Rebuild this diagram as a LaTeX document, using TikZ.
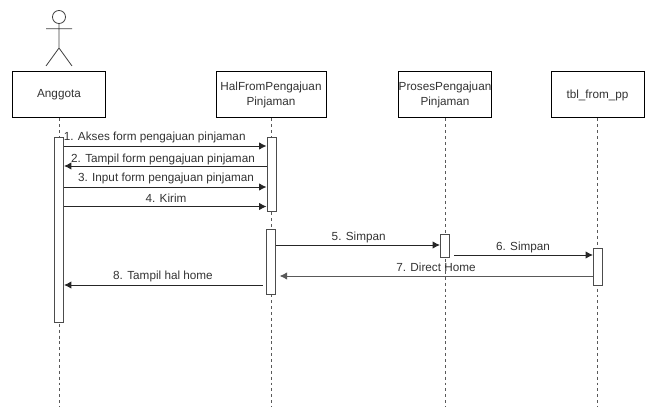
\documentclass[tikz,border=0pt]{standalone}
\usepackage{fontspec}
\setmainfont{Liberation Sans}
\usetikzlibrary{arrows.meta,calc}
\definecolor{ink}{gray}{0.2}
\definecolor{life}{gray}{0.35}
\tikzset{
  x=0.75pt,y=-0.75pt,
  box/.style={draw=black,fill=white,line width=0.75pt,minimum width=69.75pt,minimum height=34.5pt,inner sep=0pt,align=center,font=\fontsize{8.8}{11}\selectfont,text=ink},
  wide/.style={minimum width=82.5pt},
  act/.style={draw=black!70,fill=white,line width=0.75pt,minimum width=6.75pt,inner sep=0pt},
  lifeline/.style={draw=life,line width=0.75pt,dash pattern=on 2.2pt off 2.2pt},
  msg/.style={draw=black!85,line width=0.7pt,-{Latex[length=5.5pt,width=5.5pt]}},
  lbl/.style={font=\fontsize{8.8}{11}\selectfont,text=ink,inner sep=0pt},
  actorline/.style={draw=black!75,line width=0.6pt}
}
\newcommand{\actbox}[4]{\node[act,minimum height=#4*0.75pt] (#1) at (#2,#3) {};}
\begin{document}
\begin{tikzpicture}
\useasboundingbox (0,0) rectangle (648,406);
% boxes
\node[box] (anggota) at (59,95) {Anggota};
\node[box,wide] (hal) at (271,95) {HalFromPengajuan\\Pinjaman};
\node[box] (proses) at (445,95) {ProsesPengajuan\\Pinjaman};
\node[box] (tbl) at (597.5,95) {tbl\_from\_pp};
% lifeline ends
\coordinate (endA) at (59,406);
\coordinate (endH) at (271,406);
\coordinate (endP) at (445,406);
\coordinate (endT) at (597.5,406);
\draw[lifeline] (anggota.south) -- (endA);
\draw[lifeline] (hal.south) -- (endH);
\draw[lifeline] (proses.south) -- (endP);
\draw[lifeline] (tbl.south) -- (endT);
% activations
\actbox{a1}{59}{229.5}{185}
\actbox{h1}{271.5}{174}{74}
\actbox{h2}{271.2}{261.5}{65}
\actbox{p1}{445}{245.5}{23}
\actbox{t1}{598}{266.5}{37}
% message rows
\coordinate (m1) at (0,146);
\coordinate (m2) at (0,166);
\coordinate (m3) at (0,187);
\coordinate (m4) at (0,206.5);
\coordinate (m5) at (0,245);
\coordinate (m6) at (0,255);
\coordinate (m7) at (0,276);
\coordinate (m8) at (0,285);
\draw[msg] (a1.east |- m1) -- (h1.west |- m1);
\draw[msg] (h1.west |- m2) -- (a1.east |- m2);
\draw[msg] (a1.east |- m3) -- (h1.west |- m3);
\draw[msg] (a1.east |- m4) -- (h1.west |- m4);
\draw[msg] (h2.east |- m5) -- (p1.west |- m5);
\draw[msg,shorten <=3.2pt] (p1.east |- m6) -- (t1.west |- m6);
\draw[msg,shorten >=2.6pt,draw=black!65] (t1.west |- m7) -- (h2.east |- m7);
\draw[msg,shorten <=2.6pt] (h2.west |- m8) -- (a1.east |- m8);
% labels
\node[lbl] (l1) at (154.7,137) {1. Akses form pengajuan pinjaman};
\node[lbl] (l2) at (163,159) {2. Tampil form pengajuan pinjaman};
\node[lbl] (l3) at (166,178) {3. Input form pengajuan pinjaman};
\node[lbl] (l4) at (166,198) {4. Kirim};
\node[lbl] (l5) at (358.7,237) {5. Simpan};
\node[lbl] (l6) at (523,247) {6. Simpan};
\node[lbl] (l7) at (436,267) {7. Direct Home};
\node[lbl] (l8) at (163,276.7) {8. Tampil hal home};
% actor
\draw[actorline] (59,17) circle[radius=4.9pt];
\draw[actorline] (59,23.5) -- (59,48) (46,28.7) -- (72,28.7) (46,66) -- (59,48) -- (72,66);
\end{tikzpicture}
\end{document}
